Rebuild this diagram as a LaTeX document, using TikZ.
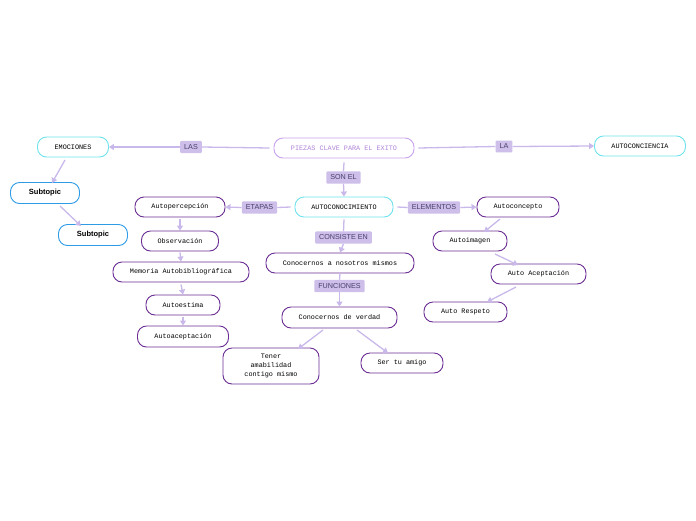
\documentclass[tikz,border=0pt]{standalone}
\usepackage{fontspec}
\setmainfont{Liberation Sans}
\newfontfamily\monof{Liberation Mono}
\usetikzlibrary{arrows.meta}
\definecolor{cyanb}{HTML}{6FE3EC}
\definecolor{purb}{HTML}{6B2E94}
\definecolor{blueb}{HTML}{2E9BE6}
\definecolor{conn}{HTML}{C9B9EA}
\definecolor{labf}{HTML}{CDBFEA}
\definecolor{labt}{HTML}{4A3F6B}
\definecolor{rootb}{HTML}{C9A2EE}
\definecolor{roott}{HTML}{B084D8}
\tikzset{
  pill/.style={draw, line width=0.9pt, rounded corners=9pt, fill=white, inner sep=0pt,
    font=\monof\fontsize{6.8}{9}\selectfont, align=center, text=black},
  cy/.style={pill, draw=cyanb},
  pu/.style={pill, draw=purb},
  rootn/.style={pill, draw=rootb, text=roott},
  sub/.style={draw=blueb, line width=0.9pt, rounded corners=9pt, fill=white, inner sep=0pt,
    font=\bfseries\fontsize{7.5}{9}\selectfont},
  lab/.style={fill=labf, text=labt, font=\fontsize{7.2}{8}\selectfont, inner xsep=4pt, inner ysep=3.5pt, rounded corners=1pt},
  con/.style={draw=conn, line width=1.3pt, -{Triangle[length=5pt,width=6pt]}},
  line/.style={draw=conn, line width=1.3pt},
}
\begin{document}
\begin{tikzpicture}[x=1pt,y=-1pt]
\useasboundingbox (0,0) rectangle (696,520);
% nodes
\node[rootn, minimum width=140pt, minimum height=20pt] (root) at (344,148) {PIEZAS CLAVE PARA EL EXITO};
\node[cy, minimum width=71pt, minimum height=20pt] (emo) at (73,147) {EMOCIONES};
\node[cy, minimum width=91pt, minimum height=20pt] (acc) at (640,146) {AUTOCONCIENCIA};
\node[sub, minimum width=69pt, minimum height=21pt] (s1) at (45,193) {Subtopic};
\node[sub, minimum width=69pt, minimum height=21pt] (s2) at (93,235) {Subtopic};
\node[cy, minimum width=98pt, minimum height=20pt] (acn) at (344,207) {AUTOCONOCIMIENTO};
\node[pu, minimum width=90pt, minimum height=20pt] (ap) at (180,207) {Autopercepción};
\node[pu, minimum width=77pt, minimum height=20pt] (obs) at (180,241) {Observación};
\node[pu, minimum width=136pt, minimum height=20pt] (mem) at (181,272) {Memoria Autobibliográfica};
\node[pu, minimum width=74pt, minimum height=20pt] (aest) at (183,305) {Autoestima};
\node[pu, minimum width=91pt, minimum height=21pt] (aacep) at (183,336.5) {Autoaceptación};
\node[pu, minimum width=82pt, minimum height=20pt] (acon) at (518,207) {Autoconcepto};
\node[pu, minimum width=74pt, minimum height=20pt] (aim) at (470,241) {Autoimagen};
\node[pu, minimum width=95pt, minimum height=20pt] (aac2) at (538.5,274) {Auto Aceptación};
\node[pu, minimum width=83pt, minimum height=20pt] (ares) at (465.5,312) {Auto Respeto};
\node[pu, minimum width=148pt, minimum height=20pt] (cnm) at (340,263) {Conocernos a nosotros mismos};
\node[pu, minimum width=115pt, minimum height=21pt] (cdv) at (339.5,317.5) {Conocernos de verdad};
\node[pu, minimum width=96pt, minimum height=36pt] (ten) at (271,366) {Tener\\amabilidad\\contigo mismo};
\node[pu, minimum width=82pt, minimum height=20pt] (ser) at (402,363) {Ser tu amigo};
% labels
\node[lab] (las) at (191,147) {LAS};
\node[lab] (la) at (504,146.5) {LA};
\node[lab] (son) at (343.5,177.5) {SON EL};
\node[lab] (eta) at (259.5,207.5) {ETAPAS};
\node[lab] (ele) at (434,207.5) {ELEMENTOS};
\node[lab] (cons) at (343.5,237.5) {CONSISTE EN};
\node[lab] (fun) at (339.5,286) {FUNCIONES};
% connectors
\path[line] (root.west) ++(-4,0) coordinate (r1) -- (las.east);
\path[con] (las.west) -- (emo.east);
\path[line] (root.east) ++(4,0) coordinate (r2) -- (la.west);
\path[con] (la.east) -- (acc.west);
\path[line] (root.south) ++(0,4) coordinate (r3) -- (son.north);
\path[con] (son.south) -- (acn.north);
\path[line] (acn.west) ++(-4,0) coordinate (a1) -- (eta.east);
\path[con] (eta.west) -- (ap.east);
\path[line] (acn.east) ++(4,0) coordinate (a2) -- (ele.west);
\path[con] (ele.east) -- (acon.west);
\path[line] (acn.south) ++(0,2) coordinate (a3) -- (cons.north);
\path[con] (cons.south) -- (cnm.north);
\path[line] (cnm.south) -- (fun.north);
\path[con] (fun.south) -- (cdv.north);
\coordinate (e1) at (65,160); \coordinate (e2) at (52,183);
\path[con] (e1) -- (e2);
\coordinate (e3) at (60,206); \coordinate (e4) at (81,226);
\path[con] (e3) -- (e4);
\path[con] (ap.south) ++(0,2) -- (obs.north);
\path[con] (obs.south) ++(0,1) -- (mem.north);
\path[con] (mem.south) ++(0,2) -- (aest.north);
\path[con] (aest.south) ++(0,2) -- (aacep.north);
\coordinate (k1) at (500,219); \coordinate (k2) at (484,232);
\path[con] (k1) -- (k2);
\coordinate (k3) at (495,254); \coordinate (k4) at (518,265);
\path[con] (k3) -- (k4);
\coordinate (k5) at (516,287); \coordinate (k6) at (487,302);
\path[con] (k5) -- (k6);
\coordinate (f1) at (323,330); \coordinate (f2) at (298,349);
\path[con] (f1) -- (f2);
\coordinate (f3) at (357,330); \coordinate (f4) at (388,353);
\path[con] (f3) -- (f4);
\end{tikzpicture}
\end{document}
